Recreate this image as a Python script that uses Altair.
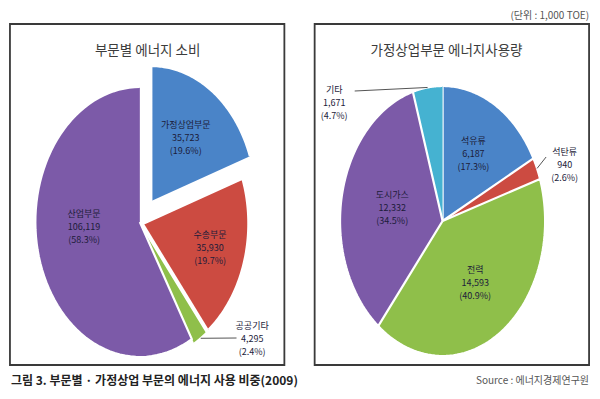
import altair as alt
import pandas as pd

# ---------------- data ----------------
left_labels = ["가정상업부문", "수송부문", "공공기타", "산업부문"]
left_values = [35723, 35930, 4295, 106119]
left_pcts = [19.6, 19.7, 2.4, 58.3]

right_labels = ["석유류", "석탄류", "전력", "도시가스", "기타"]
right_values = [6187, 940, 14593, 12332, 1671]
right_pcts = [17.3, 2.6, 40.9, 34.5, 4.7]

# ---------------- styles ----------------
left_colors = ["#4a84c8", "#cc4b41", "#8fbf4a", "#7c5aa8"]
right_colors = ["#4a84c8", "#cc4b41", "#8fbf4a", "#7c5aa8", "#45b2d1"]
left_explode = [0.19, 0.04, 0.04, 0.0]
right_explode = [0.0, 0.0, 0.0, 0.0, 0.0]
left_label_r = [0.57, 0.66, 0.0, 0.535]      # 0 -> label outside
right_label_r = [0.58, 0.0, 0.56, 0.50, 0.0]
left_label_turn = [0.0, 0.0, 0.0, 0.03]      # angular nudge of label (fraction of a turn)
right_label_turn = [0.0, 0.0, 0.0, 0.0, 0.0]
# outside labels: text centre (ref px) and leader end point (ref px)
outside = {
    "공공기타": (252, 339, 236, 338),
    "석탄류": (572, 165, 553, 157),
    "기타": (336, 103, 357, 91),
}

FONT = "Noto Sans CJK KR"
LFS, LLH = 9, 13
W, H = 584, 383
XD = [2, 600]
YD = [8, 391]
N = 72  # polygon resolution of each slice outline


def sx(x):
    return (x - XD[0]) * W / (XD[1] - XD[0])


def sy(y):
    return (y - YD[0]) * H / (YD[1] - YD[0])


xs = alt.Scale(domain=XD, range=[0, W], nice=False, zero=False)
ys = alt.Scale(domain=YD, range=[0, H], nice=False, zero=False)


def make_df(labels, values, pcts, colors, explode, label_r, label_turn):
    rows = []
    for i, (l, v, p, c, e, r, t) in enumerate(
            zip(labels, values, pcts, colors, explode, label_r, label_turn)):
        o = outside.get(l, (0, 0, 0, 0))
        rows.append(dict(order=i, label=l, value=v, pct=p, color=c, explode=e, lr=r, lt=t,
                         tx=o[0], ty=o[1], lx=o[2], ly=o[3]))
    return pd.DataFrame(rows)


def outline_df(df):
    # one row per outline vertex index (-1 = centre) for every slice
    parts = []
    for k in range(-1, N + 1):
        d = df.copy()
        d["pts"] = k
        parts.append(d)
    return pd.concat(parts, ignore_index=True)


def with_angles(chart, group=None):
    kw = {}
    if group:
        kw["groupby"] = [group]
    c = chart.transform_joinaggregate(total="sum(value)", **kw)
    c = c.transform_window(cum="sum(value)", sort=[alt.SortField("order")],
                           frame=[None, 0], **kw)
    return c.transform_calculate(
        t0="(datum.cum - datum.value) / datum.total",
        t1="datum.cum / datum.total",
        tm="(datum.cum - datum.value / 2) / datum.total",
    )


def pie(df, cx, cy, rx, ry):
    slices = (
        with_angles(alt.Chart(outline_df(df)), group="pts")
        .transform_calculate(
            ang=f"2 * PI * (datum.pts < 0 ? datum.tm : datum.t0 + (datum.t1 - datum.t0) * datum.pts / {N})",
            rr="datum.pts < 0 ? 0 : 1",
        )
        .transform_calculate(
            px=f"{cx} + {rx} * (datum.rr * sin(datum.ang) + datum.explode * sin(2 * PI * datum.tm))",
            py=f"{cy} - {ry} * (datum.rr * cos(datum.ang) + datum.explode * cos(2 * PI * datum.tm))",
        )
        .mark_line(stroke="white", strokeWidth=2.2, strokeJoin="round")
        .encode(
            x=alt.X("px:Q", scale=xs, axis=None),
            y=alt.Y("py:Q", scale=ys, axis=None),
            detail="label:N",
            order="pts:Q",
            fill=alt.Fill("color:N", scale=None),
        )
    )
    base = with_angles(alt.Chart(df))
    txt_expr = "datum.label + '\\n' + format(datum.value, ',') + '\\n(' + format(datum.pct, '.1f') + '%)'"
    inside = (
        base.transform_filter("datum.lr > 0")
        .transform_calculate(
            qx=f"{cx} + {rx} * (datum.lr * sin(2 * PI * (datum.tm + datum.lt)) + datum.explode * sin(2 * PI * datum.tm))",
            qy=f"{cy} - {ry} * (datum.lr * cos(2 * PI * (datum.tm + datum.lt)) + datum.explode * cos(2 * PI * datum.tm))",
            txt=txt_expr,
        )
        .mark_text(font=FONT, fontSize=LFS, lineHeight=LLH, lineBreak="\n", dy=-LLH,
                   color="#1c1c3a", baseline="middle")
        .encode(x=alt.X("qx:Q", scale=xs, axis=None), y=alt.Y("qy:Q", scale=ys, axis=None),
                text="txt:N")
    )
    out_text = (
        base.transform_filter("datum.lr <= 0")
        .transform_calculate(txt=txt_expr)
        .mark_text(font=FONT, fontSize=LFS, lineHeight=LLH, lineBreak="\n", dy=-LLH,
                   color="#1c1c3a", baseline="middle")
        .encode(x=alt.X("tx:Q", scale=xs, axis=None), y=alt.Y("ty:Q", scale=ys, axis=None),
                text="txt:N")
    )
    leaders = (
        base.transform_filter("datum.lr <= 0")
        .transform_calculate(
            ex=f"{cx} + {rx} * (1.0 + datum.explode) * sin(2 * PI * datum.tm)",
            ey=f"{cy} - {ry} * (1.0 + datum.explode) * cos(2 * PI * datum.tm)",
        )
        .mark_rule(color="#555555", strokeWidth=1)
        .encode(
            x=alt.X("ex:Q", scale=xs, axis=None), y=alt.Y("ey:Q", scale=ys, axis=None),
            x2="lx:Q", y2="ly:Q",
        )
    )
    return [slices, leaders, inside, out_text]


left_df = make_df(left_labels, left_values, left_pcts, left_colors, left_explode,
                  left_label_r, left_label_turn)
right_df = make_df(right_labels, right_values, right_pcts, right_colors, right_explode,
                   right_label_r, right_label_turn)

one = alt.Data(values=[{"k": 1}])

# panel borders
borders = [
    alt.Chart(one).mark_rect(fillOpacity=0, stroke="#3a3a3a", strokeWidth=1.8).encode(
        x=alt.value(sx(x0)), x2=alt.value(sx(x1)), y=alt.value(sy(24)), y2=alt.value(sy(365))
    )
    for x0, x1 in [(4, 285), (316, 597)]
]


def label(text, x, y, size, align="center", weight="normal", color="#3c3c3c"):
    return alt.Chart(one).mark_text(
        text=text, font=FONT, fontSize=size, align=align, baseline="middle",
        fontWeight=weight, color=color,
    ).encode(x=alt.value(sx(x)), y=alt.value(sy(y)))


texts = [
    label("부문별 에너지 소비", 145, 51, 13.5),
    label("가정상업부문 에너지사용량", 451, 51, 13.5),
    label("(단위 : 1,000 TOE)", 597, 16, 10, align="right", color="#555555"),
    label("그림 3. 부문별 · 가정상업 부문의 에너지 사용 비중(2009)", 5, 381, 12, align="left",
          weight="bold", color="#222222"),
    label("Source : 에너지경제연구원", 597, 381, 10, align="right", color="#555555"),
]

layers = borders + pie(left_df, 137, 222, 107, 135) + pie(right_df, 447, 221, 105, 135) + texts

chart = (
    alt.layer(*layers)
    .properties(width=W, height=H, padding=0, autosize=alt.AutoSizeParams(type="none"),
                background="white")
    .configure_view(stroke=None)
)

chart.save("out.html", embed_options={"renderer": "svg", "actions": False})
